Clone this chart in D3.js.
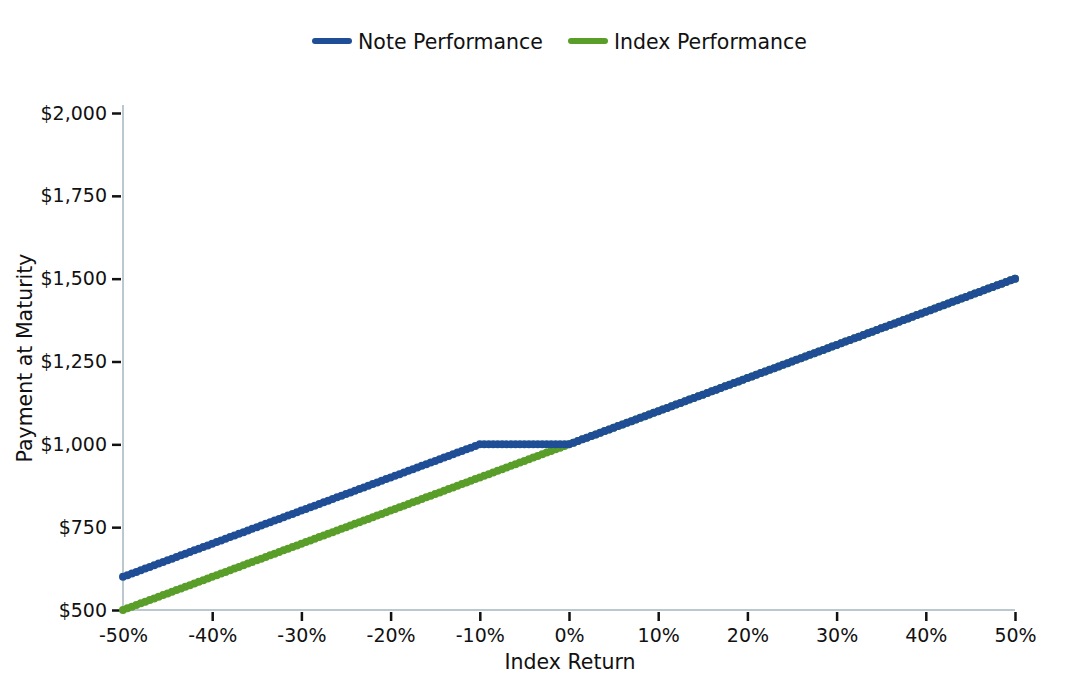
<!DOCTYPE html>
<html><head><meta charset="utf-8">
<script src="https://cdn.jsdelivr.net/npm/d3@7"></script>
<style>body{margin:0;background:#fff;font-family:"DejaVu Sans",sans-serif;}</style>
</head><body><svg id="c" width="1088" height="688"></svg>
<script>
// Data: index return (%) sampled every 0.5%
const returns = d3.range(-50, 50.0001, 0.5);
const buffer = -10; // buffer level (%)
const notePayment = returns.map(r => r >= 0 ? 1000 * (1 + r / 100) : (r >= buffer ? 1000 : 1000 * (1 + (r - buffer) / 100)));
const indexPayment = returns.map(r => 1000 * (1 + r / 100));
const seriesNames = ["Note Performance", "Index Performance"];
const seriesColors = ["#1f4e96", "#5a9e2a"];
const xTicks = [-50, -40, -30, -20, -10, 0, 10, 20, 30, 40, 50];
const yTicks = [500, 750, 1000, 1250, 1500, 1750, 2000];

const svg = d3.select("#c");
const x = d3.scaleLinear().domain([-50, 50]).range([123, 1015]);
const y = d3.scaleLinear().domain([500, 2000]).range([610, 113]);

svg.append("line").attr("x1", 123).attr("x2", 1015).attr("y1", 610).attr("y2", 610).attr("stroke", "#bcc8d0").attr("stroke-width", 2);
svg.append("line").attr("x1", 123).attr("x2", 123).attr("y1", 105).attr("y2", 610).attr("stroke", "#bcc8d0").attr("stroke-width", 2);

const xa = svg.append("g").attr("transform", "translate(0,612)")
  .call(d3.axisBottom(x).tickValues(xTicks).tickSize(9).tickPadding(8).tickFormat(d => d + "%"));
xa.select(".domain").remove();
xa.selectAll(".tick line").attr("stroke", "#111").attr("stroke-width", 2.5).filter(d => d === -50).remove();
xa.selectAll("text").attr("font-family", "DejaVu Sans").attr("font-size", 19).attr("fill", "#111");

const ya = svg.append("g").attr("transform", "translate(121,0)")
  .call(d3.axisLeft(y).tickValues(yTicks).tickSize(9).tickPadding(5).tickFormat(d => "$" + d3.format(",")(d)));
ya.select(".domain").remove();
ya.selectAll(".tick line").attr("stroke", "#111").attr("stroke-width", 2.5);
ya.selectAll("text").attr("font-family", "DejaVu Sans").attr("font-size", 19).attr("fill", "#111");

svg.append("text").attr("x", 570).attr("y", 669).attr("text-anchor", "middle")
  .attr("font-size", 20.5).attr("fill", "#111").text("Index Return");
svg.append("text").attr("transform", "translate(32,358) rotate(-90)").attr("text-anchor", "middle")
  .attr("font-size", 20.5).attr("fill", "#111").text("Payment at Maturity");

const series = [indexPayment, notePayment];
const order = [1, 0];
const line = d3.line().x((d, i) => x(returns[i])).y(d => y(d));
series.forEach((vals, k) => {
  const col = seriesColors[order[k]];
  svg.append("path").datum(vals).attr("d", line).attr("fill", "none").attr("stroke", col).attr("stroke-width", 6);
  svg.append("g").selectAll("circle").data(vals).join("circle")
    .attr("cx", (d, i) => x(returns[i])).attr("cy", d => y(d)).attr("r", 4).attr("fill", col);
});

const lg = svg.append("g");
const items = [{name: seriesNames[0], col: seriesColors[0], x: 315}, {name: seriesNames[1], col: seriesColors[1], x: 571}];
items.forEach(it => {
  lg.append("line").attr("x1", it.x).attr("x2", it.x + 34).attr("y1", 41).attr("y2", 41)
    .attr("stroke", it.col).attr("stroke-width", 6).attr("stroke-linecap", "round");
  lg.append("text").attr("x", it.x + 43).attr("y", 49).attr("font-size", 20.5).attr("fill", "#111").text(it.name);
});
</script></body></html>
